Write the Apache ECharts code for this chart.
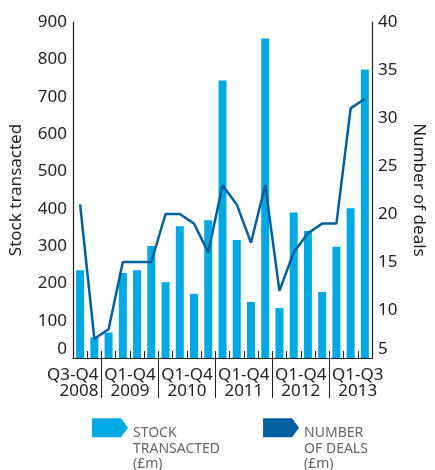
<!DOCTYPE html>
<html>
<head>
<meta charset="utf-8">
<script src="https://cdn.jsdelivr.net/npm/echarts@6/dist/echarts.min.js"></script>
<style>
  html, body { margin: 0; padding: 0; background: #fff; }
  #chart { width: 435px; height: 470px; }
</style>
</head>
<body>
<div id="chart"></div>
<script>
// Quarterly stock transacted (£m) and number of deals, Q3 2008 – Q3 2013
const quarters = [
  '2008 Q3', '2008 Q4',
  '2009 Q1', '2009 Q2', '2009 Q3', '2009 Q4',
  '2010 Q1', '2010 Q2', '2010 Q3', '2010 Q4',
  '2011 Q1', '2011 Q2', '2011 Q3', '2011 Q4',
  '2012 Q1', '2012 Q2', '2012 Q3', '2012 Q4',
  '2013 Q1', '2013 Q2', '2013 Q3'
];
const stockTransacted = [
  235, 55,
  68, 228, 235, 300,
  203, 353, 172, 369,
  743, 316, 150, 856,
  134, 390, 340, 177,
  298, 401, 773
];
const numberOfDeals = [
  21, 7,
  8, 15, 15, 15,
  20, 20, 19, 16,
  23, 21, 17, 23,
  12, 16, 18, 19,
  19, 31, 32
];
// Year groups along the bottom: label lines, and anchor positions measured in quarters
const groupPeriods = ['Q3-Q4', 'Q1-Q4', 'Q1-Q4', 'Q1-Q4', 'Q1-Q4', 'Q1-Q3'];
const groupYears = ['2008', '2009', '2010', '2011', '2012', '2013'];
const groupCentres = [0, 4, 8, 12, 16, 20];
const groupBreaks = [2, 6, 10, 14, 18];
const leftTicks = [0, 100, 200, 300, 400, 500, 600, 700, 800, 900];
const rightTicks = [5, 10, 15, 20, 25, 30, 35, 40];
const legendNames = ['STOCK\nTRANSACTED\n(£m)', 'NUMBER\nOF DEALS\n(£m)'];

const FONT = '"Noto Sans", "Open Sans", sans-serif';
const INK = '#222';
const BAR = '#00a9e4';
const LINE = '#005f9c';
const arrowIcon = 'path://M0,0 L29,0 L36,9.5 L29,19 L0,19 Z';

const chart = echarts.init(document.getElementById('chart'), null, { renderer: 'canvas' });

chart.setOption({
  animation: false,
  grid: { left: 72, right: 49, top: 22, bottom: 112, containLabel: false },
  legend: {
    top: 399,
    left: 87,
    itemGap: 43,
    itemWidth: 36,
    itemHeight: 19,
    selectedMode: false,
    data: [
      { name: legendNames[0], icon: arrowIcon, itemStyle: { color: BAR } },
      { name: legendNames[1], icon: arrowIcon, itemStyle: { color: LINE } }
    ],
    // a spacer line above the caption lowers the text block beside the arrow
    formatter: function (name) {
      return '{gap| }\n' + name.split('\n').map(function (s) { return '{t|' + s + '}'; }).join('\n');
    },
    textStyle: {
      fontFamily: FONT,
      fontSize: 14,
      color: '#666',
      rich: {
        gap: { lineHeight: 42, fontSize: 1 },
        t: { fontFamily: FONT, fontSize: 14, color: '#666', lineHeight: 15.5 }
      }
    }
  },
  xAxis: [
    {
      type: 'category',
      data: quarters,
      position: 'bottom',
      boundaryGap: true,
      axisLine: { show: true, lineStyle: { color: INK, width: 1.2 } },
      axisTick: { show: true, inside: true, length: 7, interval: 0, lineStyle: { color: INK, width: 1 } },
      axisLabel: { show: false },
      splitLine: { show: false },
      z: 5
    },
    {
      type: 'value',
      position: 'bottom',
      offset: 0,
      min: 0,
      max: quarters.length,
      axisLine: { show: false },
      axisTick: {
        show: true,
        customValues: groupBreaks,
        length: 40,
        lineStyle: { color: INK, width: 1 }
      },
      axisLabel: {
        show: true,
        customValues: groupCentres,
        showMinLabel: true,
        showMaxLabel: true,
        hideOverlap: false,
        margin: 9,
        fontFamily: FONT,
        fontSize: 17,
        lineHeight: 16,
        color: INK,
        formatter: function (v) {
          const i = groupCentres.indexOf(v);
          if (i < 0) return '';
          // the first group sits against the left axis, so its lines are right-aligned
          const cls = i === 0 ? 'r' : 'c';
          return '{' + cls + '|' + groupPeriods[i] + '}\n{' + cls + '|' + groupYears[i] + '}';
        },
        rich: {
          r: { width: 51, align: 'right', fontFamily: FONT, fontSize: 17, lineHeight: 16, color: INK },
          c: { align: 'center', fontFamily: FONT, fontSize: 17, lineHeight: 16, color: INK }
        }
      },
      splitLine: { show: false }
    }
  ],
  yAxis: [
    {
      type: 'value',
      min: leftTicks[0],
      max: leftTicks[leftTicks.length - 1],
      interval: 100,
      position: 'left',
      name: 'Stock transacted',
      nameLocation: 'middle',
      nameGap: 48,
      nameRotate: 90,
      nameTextStyle: { fontFamily: FONT, fontSize: 17, color: INK },
      axisLine: { show: true, lineStyle: { color: INK, width: 1.2 } },
      axisTick: { show: false },
      axisLabel: {
        fontFamily: FONT, fontSize: 17, color: INK, margin: 6,
        verticalAlignMinLabel: 'bottom'
      },
      splitLine: { show: false }
    },
    {
      type: 'value',
      min: rightTicks[0],
      max: rightTicks[rightTicks.length - 1],
      interval: 5,
      position: 'right',
      name: 'Number of deals',
      nameLocation: 'middle',
      nameGap: 38,
      nameRotate: -90,
      nameTextStyle: { fontFamily: FONT, fontSize: 17, color: INK },
      axisLine: { show: true, lineStyle: { color: INK, width: 1.2 } },
      axisTick: { show: false },
      axisLabel: {
        fontFamily: FONT, fontSize: 17, color: INK, margin: 6,
        verticalAlignMinLabel: 'bottom'
      },
      splitLine: { show: false }
    }
  ],
  series: [
    {
      name: legendNames[0],
      type: 'bar',
      xAxisIndex: 0,
      yAxisIndex: 0,
      data: stockTransacted,
      barWidth: 8,
      itemStyle: { color: BAR },
      z: 2
    },
    {
      name: legendNames[1],
      type: 'line',
      xAxisIndex: 0,
      yAxisIndex: 1,
      data: numberOfDeals,
      showSymbol: false,
      symbol: 'none',
      lineStyle: { color: LINE, width: 2.5 },
      itemStyle: { color: LINE },
      z: 3
    }
  ]
});
</script>
</body>
</html>
